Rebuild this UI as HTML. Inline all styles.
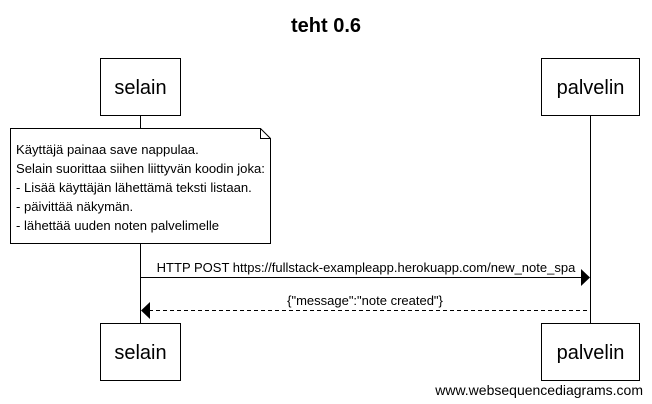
<!DOCTYPE html>
<html><head><meta charset="utf-8"><style>
body{margin:0;background:#fff;width:652px;height:404px;overflow:hidden}
svg{display:block;font-family:"Liberation Sans",Arial,sans-serif}
</style></head><body>
<svg width="652" height="404" viewBox="0 0 652 404" xmlns="http://www.w3.org/2000/svg">
<text x="326" y="32" text-anchor="middle" font-size="20" font-weight="bold">teht 0.6</text>
<line x1="140.5" y1="115" x2="140.5" y2="323" stroke="#000"/>
<line x1="590.5" y1="115" x2="590.5" y2="323" stroke="#000"/>
<rect x="100.5" y="58.5" width="80" height="57" fill="#fff" stroke="#000"/>
<text x="140.5" y="94" text-anchor="middle" font-size="20">selain</text>
<rect x="541.5" y="58.5" width="98" height="57" fill="#fff" stroke="#000"/>
<text x="590.5" y="94" text-anchor="middle" font-size="20">palvelin</text>
<rect x="100.5" y="323.5" width="80" height="57" fill="#fff" stroke="#000"/>
<text x="140.5" y="359" text-anchor="middle" font-size="20">selain</text>
<rect x="541.5" y="323.5" width="98" height="57" fill="#fff" stroke="#000"/>
<text x="590.5" y="359" text-anchor="middle" font-size="20">palvelin</text>
<path d="M10.5 128.5 H260.5 L270.5 138.5 V243.5 H10.5 Z" fill="#fff" stroke="#000"/>
<path d="M260.5 128.5 V138.5 H270.5" fill="none" stroke="#000"/>
<g font-size="13.1">
<text x="16" y="154">Käyttäjä painaa save nappulaa.</text>
<text x="16" y="173">Selain suorittaa siihen liittyvän koodin joka:</text>
<text x="16" y="192">- Lisää käyttäjän lähettämä teksti listaan.</text>
<text x="16" y="211">- päivittää näkymän.</text>
<text x="16" y="230">- lähettää uuden noten palvelimelle</text>
</g>
<g font-size="13">
<text x="366" y="272" text-anchor="middle">HTTP POST https://fullstack-exampleapp.herokuapp.com/new_note_spa</text>
<text x="365" y="305" text-anchor="middle">{"message":"note created"}</text>
</g>
<line x1="140.5" y1="277.5" x2="582" y2="277.5" stroke="#000"/>
<path d="M581 269 L590 277.5 L581 286 Z" fill="#000"/>
<line x1="149" y1="310.5" x2="590.5" y2="310.5" stroke="#000" stroke-dasharray="4,3"/>
<path d="M150 302 L141 310.5 L150 319 Z" fill="#000"/>
<text x="643" y="395" text-anchor="end" font-size="14">www.websequencediagrams.com</text>
</svg>
</body></html>
